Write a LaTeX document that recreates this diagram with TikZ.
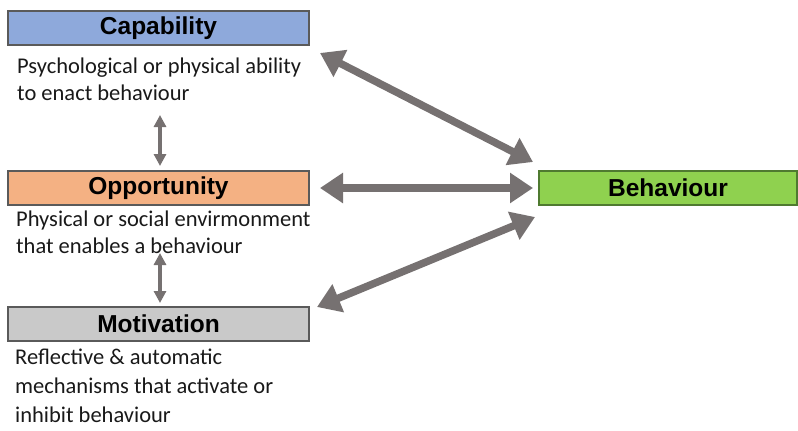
\documentclass[tikz,border=0pt]{standalone}
\usepackage{fontspec}
\setmainfont{Carlito}
\newfontfamily\headfont{Liberation Sans}
\usetikzlibrary{arrows.meta}

\definecolor{capfill}{HTML}{8EA9DB}
\definecolor{oppfill}{HTML}{F4B183}
\definecolor{motfill}{HTML}{C9C9C9}
\definecolor{behfill}{HTML}{8FD14F}
\definecolor{behedge}{HTML}{4F7A30}
\definecolor{boxedge}{HTML}{5A5A5A}
\definecolor{arrowgray}{HTML}{767171}

\tikzset{
  headbox/.style={draw=boxedge, line width=1.4pt, minimum height=34pt,
    inner sep=0pt, font=\headfont\fontsize{24.5}{28}\selectfont\bfseries},
  descline/.style={anchor=base west, inner sep=0pt, text=black!90,
    font=\fontsize{22.5}{27}\selectfont},
  bigarrow/.style={draw=arrowgray, line width=7.5pt,
    {Triangle[width=29pt,length=23pt]}-{Triangle[width=29pt,length=23pt]}},
  smallarrow/.style={draw=arrowgray, line width=3.5pt,
    {Triangle[width=12pt,length=12pt]}-{Triangle[width=12pt,length=12pt]}}
}

\begin{document}
\begin{tikzpicture}[x=1pt,y=-1pt]
\useasboundingbox (0,0) rectangle (798,431);

% the three components
\node[headbox, fill=capfill, minimum width=301pt] (cap) at (158.5,28) {Capability};
\node[headbox, fill=oppfill, minimum width=301pt] (opp) at (158.5,188) {Opportunity};
\node[headbox, fill=motfill, minimum width=301pt] (mot) at (158.5,324) {Motivation};

% the outcome
\node[headbox, fill=behfill, draw=behedge, minimum width=258pt] (beh) at (668,188) {Behaviour};

% descriptions
\node[descline] (capd1) at (17,73) {Psychological or physical ability};
\node[descline] (capd2) at (17,100) {to enact behaviour};
\node[descline] (oppd1) at (16,226) {Physical or social envirmonment};
\node[descline] (oppd2) at (16,253) {that enables a behaviour};
\node[descline] (motd1) at (15,364) {Reflective \& automatic};
\node[descline] (motd2) at (15,393) {mechanisms that activate or};
\node[descline] (motd3) at (15,422) {inhibit behaviour};

% arrow end points
\coordinate (capR) at (320,53);
\coordinate (behA) at (533,162);
\coordinate (oppR) at (320,188);
\coordinate (behB) at (533,188);
\coordinate (motR) at (317,307);
\coordinate (behC) at (535,217);
\coordinate (capB) at (160,115);
\coordinate (oppT) at (160,166);
\coordinate (oppB) at (160,253);
\coordinate (motT) at (160,303);

% links to behaviour
\draw[bigarrow] (capR) -- (behA);
\draw[bigarrow] (oppR) -- (behB);
\draw[bigarrow] (motR) -- (behC);

% links between components
\draw[smallarrow] (capB) -- (oppT);
\draw[smallarrow] (oppB) -- (motT);
\end{tikzpicture}
\end{document}
